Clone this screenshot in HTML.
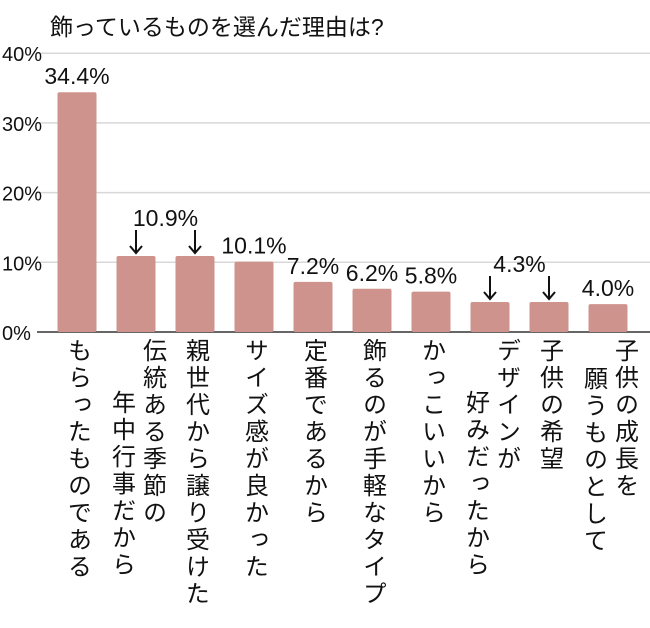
<!DOCTYPE html>
<html><head><meta charset="utf-8"><style>
body{margin:0;background:#fff;}
svg text{font-family:"Liberation Sans","Noto Sans CJK JP",sans-serif;fill:#111;}
.v{writing-mode:vertical-rl;font-size:24px;letter-spacing:3px;}
</style></head><body>
<svg width="650" height="623" viewBox="0 0 650 623">
<text x="50" y="35" font-size="23">飾っているものを選んだ理由は?</text>
<g id="grid"></g><g id="bars"></g><g id="vals"></g><g id="cats"></g>
</svg>
<script>
const categories=[["もらったものである"],["伝統ある季節の","年中行事だから"],["親世代から譲り受けた"],["サイズ感が良かった"],["定番であるから"],["飾るのが手軽なタイプ"],["かっこいいから"],["デザインが","好みだったから"],["子供の希望"],["子供の成長を","願うものとして"]];
const values=[34.4,10.9,10.9,10.1,7.2,6.2,5.8,4.3,4.3,4.0];
const valueLabels=["34.4%","10.9%",null,"10.1%","7.2%","6.2%","5.8%","4.3%",null,"4.0%"];
const ticks=[0,10,20,30,40];
const tickLabels=["0%","10%","20%","30%","40%"];
const NS="http://www.w3.org/2000/svg";
const y=v=>332-v*6.97;
const x=i=>77+i*59;
function mk(t,a,p,txt){const e=document.createElementNS(NS,t);for(const k in a)e.setAttribute(k,a[k]);if(txt!=null)e.textContent=txt;p.appendChild(e);return e;}
const G=document.getElementById('grid'),B=document.getElementById('bars'),V=document.getElementById('vals'),C=document.getElementById('cats');
ticks.forEach((t,i)=>{
 const l=mk('line',{x1:37,x2:650,y1:y(t),y2:y(t),stroke:t===0?'#666':'#d8d8d8','stroke-width':t===0?2:1.5},G);
 
 
 const tx=mk('text',{x:2,y:y(t)+8,'font-size':20},G,tickLabels[i]);
 
 
});
values.forEach((v,i)=>{
 const r=mk('rect',{x:x(i)-19.5,y:y(v),width:39,height:332-y(v),fill:'#cf938e',rx:2},B);
 
 
});
const pairs={1:true,7:true};
valueLabels.forEach((s,i)=>{
 if(s==null)return;
 let cx=x(i),ty=y(values[i])-8;
 if(pairs[i]){
  cx=(x(i)+x(i+1))/2;ty=y(values[i])-30;
  [i,i+1].forEach(j=>{
   const top=y(values[j])-26,bot=y(values[j])-3,ax=x(j);
   const a=mk('path',{d:`M${ax},${top}V${bot}M${ax-6},${bot-7}L${ax},${bot}L${ax+6},${bot-7}`,stroke:'#111','stroke-width':2,fill:'none'},V);
   
   
  });
 }
 const t=mk('text',{x:cx,y:ty,'font-size':23,'text-anchor':'middle'},V,s);
 
 
});
categories.forEach((c,i)=>{
 c.forEach((line,k)=>{
  const off=c.length===1?0:(k===0?16:-15);
  const top=k===0?338:(i===9?366:390);
  const t=mk('text',{x:x(i)+off,y:top,class:'v','text-anchor':'start'},C,line);
  
  
 });
});
</script>
</body></html>
